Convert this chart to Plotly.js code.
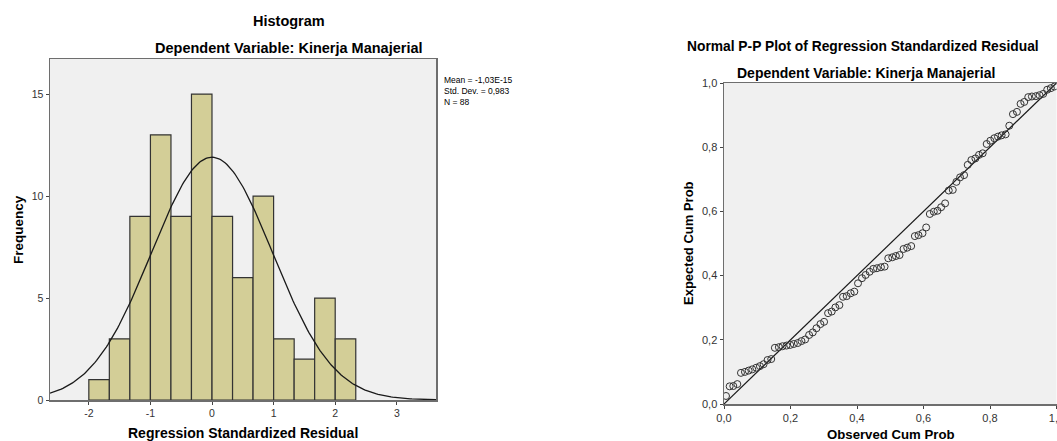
<!DOCTYPE html>
<html>
<head>
<meta charset="utf-8">
<script src="https://cdn.plot.ly/plotly-3.0.1.min.js"></script>
<style>html,body{margin:0;padding:0;background:#fff;}#chart{width:1057px;height:441px;}</style>
</head>
<body>
<div id="chart"></div>
<script>
// ---- Histogram data ----
const BIN_CENTERS = [-1.833, -1.5, -1.167, -0.833, -0.5, -0.167, 0.167, 0.5, 0.833, 1.167, 1.5, 1.833, 2.167];
const BIN_COUNTS  = [1, 3, 9, 13, 9, 15, 9, 6, 10, 3, 2, 5, 3];
const BIN_WIDTH = 1/3;
const RES_MEAN = -1.03e-15;
const RES_SD = 0.983;
const RES_N = 88;
const HIST_TICKS = [-2, -1, 0, 1, 2, 3];
const HIST_TICK_TEXT = ['-2', '-1', '0', '1', '2', '3'];
const FREQ_TICKS = [0, 5, 10, 15];
const FREQ_TICK_TEXT = ['0', '5', '10', '15'];
const STATS_TEXT = ['Mean = -1,03E-15', 'Std. Dev. = 0,983', 'N = 88'];

// ---- P-P plot data ----
const OBS_CUM_PROB = [
 0.006,0.017,0.028,0.040,0.051,0.063,0.074,0.085,0.097,0.108,
 0.119,0.131,0.142,0.153,0.165,0.176,0.188,0.199,0.210,0.222,
 0.233,0.244,0.256,0.267,0.278,0.290,0.301,0.313,0.324,0.335,
 0.347,0.358,0.369,0.381,0.392,0.403,0.415,0.426,0.438,0.449,
 0.460,0.472,0.483,0.494,0.506,0.517,0.528,0.540,0.551,0.563,
 0.574,0.585,0.597,0.608,0.619,0.631,0.642,0.653,0.665,0.676,
 0.688,0.699,0.710,0.722,0.733,0.744,0.756,0.767,0.778,0.790,
 0.801,0.813,0.824,0.835,0.847,0.858,0.869,0.881,0.892,0.903,
 0.915,0.926,0.938,0.949,0.960,0.972,0.983,0.994];
const EXP_CUM_PROB = [
 0.025,0.055,0.056,0.062,0.097,0.100,0.104,0.108,0.113,0.118,
 0.124,0.137,0.140,0.175,0.177,0.180,0.182,0.184,0.187,0.190,
 0.196,0.201,0.215,0.223,0.236,0.249,0.256,0.283,0.288,0.301,
 0.308,0.334,0.336,0.345,0.350,0.376,0.392,0.402,0.412,0.421,
 0.423,0.426,0.428,0.454,0.457,0.461,0.464,0.483,0.487,0.492,
 0.523,0.526,0.532,0.550,0.592,0.599,0.602,0.613,0.625,0.665,
 0.667,0.692,0.706,0.713,0.745,0.760,0.765,0.776,0.781,0.810,
 0.820,0.828,0.833,0.837,0.840,0.867,0.903,0.910,0.935,0.941,
 0.956,0.958,0.959,0.962,0.966,0.979,0.984,0.989];
const REF_LINE = [0, 1];
const PP_TICKS = [0, 0.2, 0.4, 0.6, 0.8, 1];
const PP_TICK_TEXT = ['0,0', '0,2', '0,4', '0,6', '0,8', '1,0'];

// ---- Layout geometry (pixels in a 1057x441 page) ----
const W = 1057, H = 441;
const px = v => v / W;
const py = v => 1 - v / H;
const HX_RANGE = [-2.63, 3.636];

// fitted normal curve from the displayed statistics
const curveX = [], curveY = [];
for (let i = 0; i <= 240; i++) {
  const x = HX_RANGE[0] + (HX_RANGE[1] - HX_RANGE[0]) * i / 240;
  const z = (x - RES_MEAN) / RES_SD;
  curveX.push(x);
  curveY.push(RES_N * BIN_WIDTH * Math.exp(-0.5 * z * z) / (RES_SD * Math.sqrt(2 * Math.PI)));
}

const FONT = '"Liberation Sans", Arial, Helvetica, sans-serif';
const BOLD = s => '<b>' + s + '</b>';

const traces = [
  {type:'bar', x:BIN_CENTERS, y:BIN_COUNTS, width:BIN_WIDTH, xaxis:'x', yaxis:'y',
   marker:{color:'#d3ce97', line:{color:'#333333', width:1.2}}, hoverinfo:'x+y'},
  {type:'scatter', mode:'lines', x:curveX, y:curveY, xaxis:'x', yaxis:'y',
   line:{color:'#1a1a1a', width:1.3}, hoverinfo:'skip'},
  {type:'scatter', mode:'lines', x:REF_LINE, y:REF_LINE, xaxis:'x2', yaxis:'y2',
   line:{color:'#1a1a1a', width:1.2}, hoverinfo:'skip'},
  {type:'scatter', mode:'markers', x:OBS_CUM_PROB, y:EXP_CUM_PROB, xaxis:'x2', yaxis:'y2',
   marker:{symbol:'circle-open', size:7, color:'#333333', line:{width:1, color:'#333333'}}}
];

const axisCommon = {
  showgrid:false, zeroline:false, showline:true, mirror:true,
  linecolor:'#6e6e6e', linewidth:1.5, ticks:'outside', ticklen:3, tickwidth:1,
  tickcolor:'#444', fixedrange:true, ticklabeloverflow:'allow'
};

const layout = {
  width:W, height:H,
  margin:{l:0, r:0, t:0, b:0},
  paper_bgcolor:'#ffffff', plot_bgcolor:'#f0f0f0',
  showlegend:false,
  font:{family:FONT, color:'#000'},
  xaxis:Object.assign({}, axisCommon, {domain:[px(50), px(436)], range:HX_RANGE, anchor:'y',
    tickvals:HIST_TICKS, ticktext:HIST_TICK_TEXT, tickfont:{size:10.5, color:'#333', family:FONT}}),
  yaxis:Object.assign({}, axisCommon, {domain:[py(400), py(59)], range:[0, 16.72], anchor:'x',
    tickvals:FREQ_TICKS, ticktext:FREQ_TICK_TEXT, tickfont:{size:10.5, color:'#333', family:FONT}}),
  xaxis2:Object.assign({}, axisCommon, {domain:[px(724), px(1056.5)], range:[0, 1], anchor:'y2',
    tickvals:PP_TICKS, ticktext:PP_TICK_TEXT, tickfont:{size:11, color:'#333', family:FONT}}),
  yaxis2:Object.assign({}, axisCommon, {domain:[py(404), py(83)], range:[0, 1], anchor:'x2',
    tickvals:PP_TICKS, ticktext:PP_TICK_TEXT, tickfont:{size:11, color:'#333', family:FONT}}),
  annotations:[
    {text:BOLD('Histogram'), x:px(289), y:py(20.7), size:14.5},
    {text:BOLD('Dependent Variable: Kinerja Manajerial'), x:px(289), y:py(48.5), size:14.5},
    {text:BOLD('Frequency'), x:px(18), y:py(230), size:13.5, textangle:-90},
    {text:BOLD('Regression Standardized Residual'), x:px(243), y:py(432.5), size:14},
    {text:STATS_TEXT.join('<br>'), x:px(441.5), y:py(90.6), size:8.5, xanchor:'left', align:'left'},
    {text:BOLD('Normal P-P Plot of Regression Standardized Residual'), x:px(862.5), y:py(46.7), size:13.8},
    {text:BOLD('Dependent Variable: Kinerja Manajerial'), x:px(866), y:py(72.8), size:14},
    {text:BOLD('Expected Cum Prob'), x:px(689), y:py(243), size:13, textangle:-90},
    {text:BOLD('Observed Cum Prob'), x:px(891), y:py(434), size:13.2}
  ].map(a => ({
    text:a.text, x:a.x, y:a.y, xref:'paper', yref:'paper', showarrow:false,
    xanchor:a.xanchor || 'center', yanchor:'middle', textangle:a.textangle || 0,
    align:a.align || 'center',
    font:{family:FONT, size:a.size, color:'#000'}
  }))
};

Plotly.newPlot('chart', traces, layout, {displayModeBar:false, staticPlot:true});
</script>
</body>
</html>
